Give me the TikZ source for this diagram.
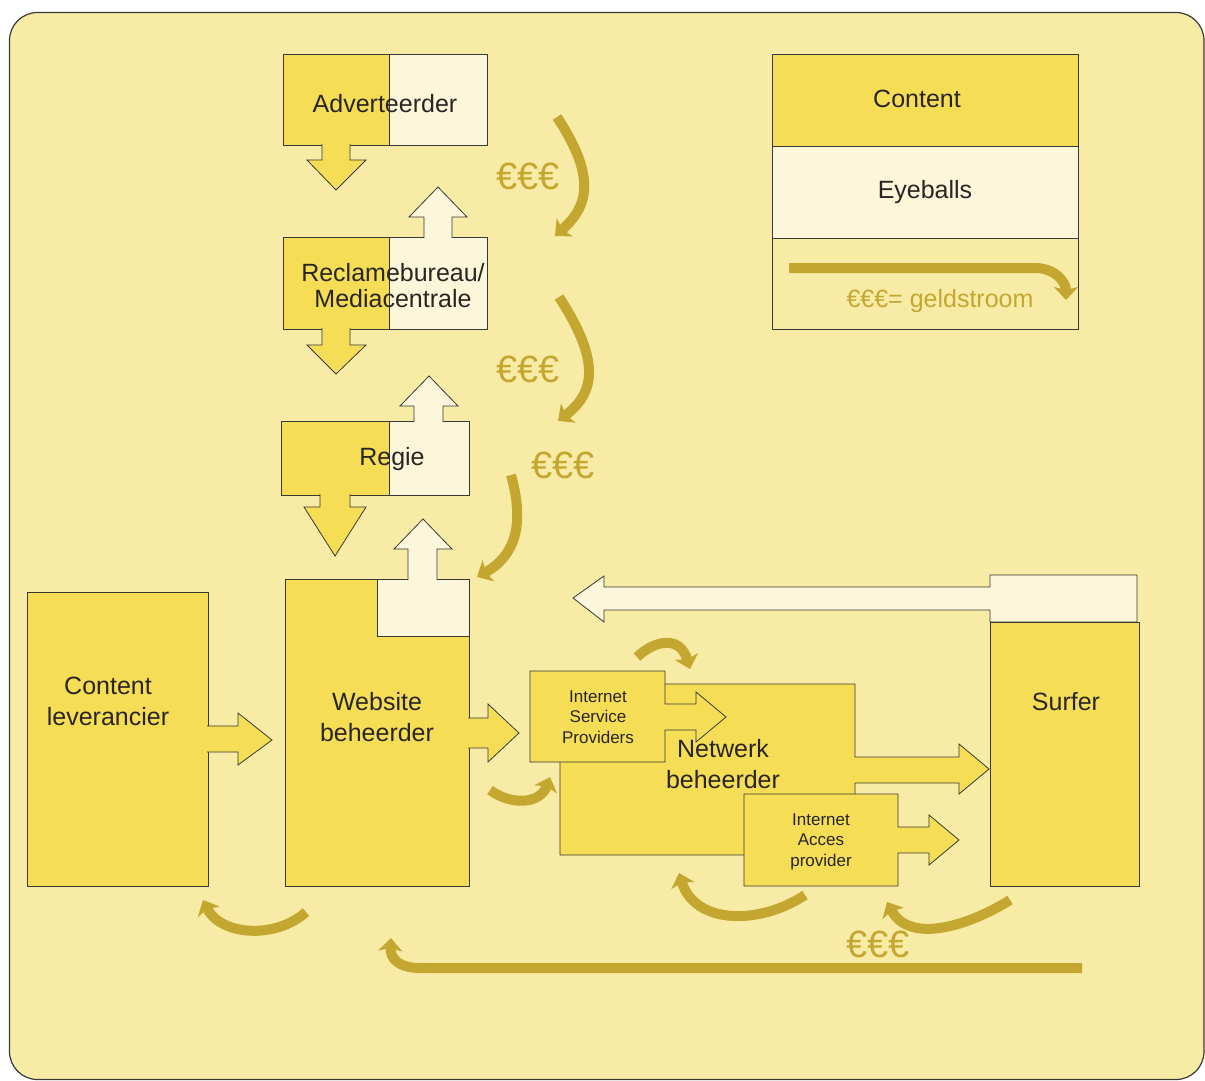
\documentclass[tikz,border=0pt]{standalone}
\usepackage{fontspec}
\setmainfont{Liberation Sans}
\usetikzlibrary{arrows.meta}
\definecolor{bgc}{HTML}{F8EBA5}
\definecolor{cy}{HTML}{F5DE56}
\definecolor{cr}{HTML}{FCF6DA}
\definecolor{mc}{HTML}{C4A731}
\definecolor{edge}{HTML}{3A3836}
\definecolor{txt}{HTML}{2A2522}
\begin{document}
\begin{tikzpicture}[x=1pt,y=-1pt,
  cbox/.style={fill=cy, draw=edge, line width=0.8pt},
  ebox/.style={fill=cr, draw=edge, line width=0.8pt},
  lbox/.style={draw=edge, line width=0.8pt},
  money/.style={draw=mc, line width=10pt, -{Stealth[length=13pt,width=24pt,inset=3pt]}},
  lbl/.style={font=\fontsize{25}{31}\selectfont, text=txt, anchor=base, inner sep=0pt, align=center},
  slbl/.style={font=\fontsize{17}{20.5}\selectfont, text=txt, anchor=base, inner sep=0pt, align=center},
  eur/.style={font=\fontsize{38}{38}\selectfont, text=mc, anchor=base, inner sep=0pt}]
\useasboundingbox (0,0) rectangle (1205,1080);
% background
\draw[fill=bgc, draw=edge, line width=1.2pt, rounded corners=28pt] (9.5,12.5) rectangle (1204,1079.5);

% Adverteerder
\draw[cbox] (283,54) rectangle (389,145);
\draw[ebox] (389,54) rectangle (487,145);
\path[cbox] (322,144) -- (322,160) -- (307,160) -- (336,190) -- (366,160) -- (350,160) -- (350,144);
% Reclamebureau
\draw[cbox] (283,237) rectangle (389,329);
\draw[ebox] (389,237) rectangle (487,329);
\path[ebox] (424,238) -- (424,217) -- (409,217) -- (438,187) -- (467,217) -- (452,217) -- (452,238);
\path[cbox] (322,328) -- (322,345) -- (307,345) -- (336,374) -- (366,345) -- (350,345) -- (350,328);
% Regie
\draw[cbox] (281,421) rectangle (389,495);
\draw[ebox] (389,421) rectangle (469,495);
\path[ebox] (414,422) -- (414,406) -- (400,406) -- (429,376) -- (458,406) -- (443,406) -- (443,422);
\path[cbox] (320,494) -- (320,507) -- (304,507) -- (335,556) -- (366,507) -- (350,507) -- (350,494);
% Content leverancier
\draw[cbox] (27,592) rectangle (208,886);
\path[cbox] (207,726) -- (238,726) -- (238,713) -- (272,740) -- (238,765) -- (238,752) -- (207,752);
% Website beheerder
\draw[cbox] (285,579) rectangle (469,886);
\draw[ebox] (377,579) rectangle (469,636);
\path[ebox] (408,580) -- (408,549) -- (394,549) -- (423,519) -- (452,549) -- (437,549) -- (437,580);
\path[cbox] (468,718) -- (488,718) -- (488,704) -- (519,733) -- (488,762) -- (488,748) -- (468,748);
% Eyeball flow from surfer
\draw[ebox] (573,598) -- (604,576) -- (604,587) -- (990,587) -- (990,575) -- (1137,575) -- (1137,622) -- (990,622) -- (990,610) -- (604,610) -- (604,622) -- cycle;
% Surfer
\draw[cbox] (990,622) rectangle (1139,886);
% Netwerk beheerder
\draw[cbox] (560,684) -- (855,684) -- (855,757) -- (959,757) -- (959,744) -- (989,769) -- (959,794) -- (959,783) -- (855,783) -- (855,855) -- (560,855) -- cycle;
% ISP
\draw[cbox] (530,671) -- (665,671) -- (665,704) -- (696,704) -- (696,692) -- (726,717) -- (696,742) -- (696,730) -- (665,730) -- (665,762) -- (530,762) -- cycle;
% IAP
\draw[cbox] (744,794) -- (898,794) -- (898,827) -- (929,827) -- (929,815) -- (959,840) -- (929,865) -- (929,853) -- (898,853) -- (898,886) -- (744,886) -- cycle;

% Legend
\draw[cbox] (772,54) rectangle (1078,146);
\draw[ebox] (772,146) rectangle (1078,238);
\draw[lbox] (772,238) rectangle (1078,329);
\draw[money] (789,268) -- (1035,268) .. controls (1055,268) and (1066,282) .. (1066,300);

% money flows
\draw[money] (557,117) .. controls (595,175) and (590,205) .. (555,236);
\draw[money] (559,297) .. controls (600,360) and (596,392) .. (558,421);
\draw[money] (511,475) .. controls (525,525) and (515,556) .. (477,577);
\draw[money] (637,657) .. controls (655,640) and (680,635) .. (690,669);
\draw[money] (490,790) .. controls (510,805) and (540,805) .. (550,777);
\draw[money] (805,895) .. controls (760,925) and (695,925) .. (679,873);
\draw[money] (1010,900) .. controls (970,925) and (910,945) .. (887,902);
\draw[money] (306,912) .. controls (275,940) and (220,935) .. (203,900);
\draw[money] (1082,968) -- (420,968) .. controls (398,968) and (390,958) .. (391,938);

% labels (multi-line nodes: base = last line)
\node[lbl] (tadv) at (385,112) {Adverteerder};
\node[lbl, font=\fontsize{25}{26}\selectfont] (trec) at (393,307) {Reclamebureau/\\Mediacentrale};
\node[lbl] (treg) at (392,465) {Regie};
\node[lbl] (tcl) at (108,725) {Content\\leverancier};
\node[lbl] (twb) at (377,741) {Website\\beheerder};
\node[lbl] (tnb) at (723,788) {Netwerk\\beheerder};
\node[slbl] (tisp) at (598,743) {Internet\\Service\\Providers};
\node[slbl] (tiap) at (821,866) {Internet\\Acces\\provider};
\node[lbl] (tsurf) at (1066,710) {Surfer};
\node[lbl] (tcont) at (917,107) {Content};
\node[lbl] (teye) at (925,198) {Eyeballs};
\node[lbl, text=mc] (tgeld) at (940,307) {€€€= geldstroom};
\node[eur] (e1) at (528,189) {€€€};
\node[eur] (e2) at (528,382) {€€€};
\node[eur] (e3) at (563,478) {€€€};
\node[eur] (e4) at (878,957) {€€€};
\end{tikzpicture}
\end{document}
